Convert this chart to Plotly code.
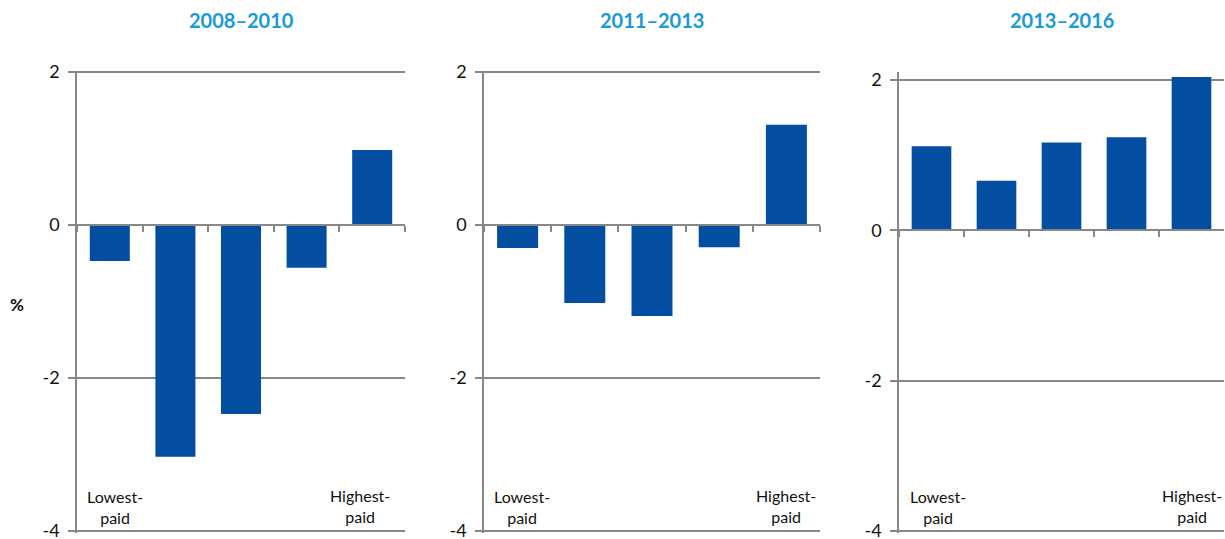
import plotly.graph_objects as go

W, H = 1225, 539

quintiles = ["Q1", "Q2", "Q3", "Q4", "Q5"]
periods = ["2008–2010", "2011–2013", "2013–2016"]
vals_2008_2010 = [-0.47, -3.03, -2.47, -0.56, 0.98]
vals_2011_2013 = [-0.30, -1.02, -1.19, -0.29, 1.31]
vals_2013_2016 = [1.12, 0.66, 1.17, 1.24, 2.04]
series = [vals_2008_2010, vals_2011_2013, vals_2013_2016]
ytick_vals = [-4, -2, 0, 2]
ytick_text = ["-4", "-2", "0", "2"]
low_label = "Lowest-<br>paid"
high_label = "Highest-<br>paid"

BAR = "#044ea2"
GRID = "#878787"
TITLE = "#1a9ad6"
FONT = "Lato"

# pixel geometry of each panel: (x_left, x_right, y_top, y_bottom, y_zero)
panels = [
    (77, 405, 70.5, 532.5, 225),
    (484, 820, 70.5, 532.5, 225),
    (899, 1224, 72, 532.5, 230),
]
yranges = [[-4.02, 2.02], [-4.02, 2.02], [-4.02, 2.107]]
label_shift = [(5, -12), (4, 0), (6, 0)]

fig = go.Figure()
layout = dict(
    width=W, height=H,
    margin=dict(l=0, r=0, t=0, b=0),
    paper_bgcolor="white", plot_bgcolor="white",
    showlegend=False,
    bargap=0.39,
    font=dict(family=FONT, color="#111111"),
    annotations=[],
)

for i, (vals, (xl, xr, yt, yb, yz)) in enumerate(zip(series, panels)):
    n = i + 1
    xa = "x" if n == 1 else f"x{n}"
    ya = "y" if n == 1 else f"y{n}"
    fig.add_trace(go.Bar(x=quintiles, y=vals, xaxis=xa, yaxis=ya,
                         marker=dict(color=BAR, line=dict(width=0))))
    xdom = [xl / W, xr / W]
    ydom = [1 - yb / H, 1 - yt / H]
    layout["xaxis" if n == 1 else f"xaxis{n}"] = dict(
        domain=xdom, anchor="free", position=1 - yz / H,
        type="category", range=[-0.5, 4.5],
        showline=True, linecolor=GRID, linewidth=1.5,
        ticks="outside", tickson="boundaries", ticklen=6, tickcolor=GRID, tickwidth=1.5,
        showticklabels=False, showgrid=False, zeroline=False, fixedrange=True,
    )
    layout["yaxis" if n == 1 else f"yaxis{n}"] = dict(
        domain=ydom, anchor=xa, range=yranges[i],
        tickmode="array", tickvals=ytick_vals, ticktext=ytick_text,
        showline=True, linecolor=GRID, linewidth=1.5,
        showgrid=True, gridcolor=GRID, gridwidth=1.5,
        ticks="outside", ticklen=7, tickcolor=GRID, tickwidth=1.5,
        ticklabelstandoff=5, ticklabeloverflow="allow",
        tickfont=dict(family=FONT, size=18, color="#111111"),
        zeroline=False, fixedrange=True, automargin=False,
    )
    # panel title
    layout["annotations"].append(dict(
        text=f"<b>{periods[i]}</b>", xref="paper", yref="paper",
        x=(xl + xr) / 2 / W, y=1 - 20 / H, xanchor="center", yanchor="middle",
        showarrow=False, font=dict(family=FONT, size=20, color=TITLE)))
    # end labels
    ls, hs = label_shift[i]
    layout["annotations"].append(dict(
        text=low_label, xref=xa, yref="paper", x=quintiles[0], y=1 - 507 / H,
        xanchor="center", yanchor="middle", xshift=ls, showarrow=False, align="center",
        font=dict(family=FONT, size=16, color="#111111")))
    layout["annotations"].append(dict(
        text=high_label, xref=xa, yref="paper", x=quintiles[-1], y=1 - 506 / H,
        xanchor="center", yanchor="middle", xshift=hs, showarrow=False, align="center",
        bgcolor="white" if i < 2 else None, borderpad=3,
        font=dict(family=FONT, size=16, color="#111111")))

layout["annotations"].append(dict(
    text="<b>%</b>", xref="paper", yref="paper", x=17 / W, y=1 - 304 / H,
    xanchor="center", yanchor="middle", showarrow=False,
    font=dict(family=FONT, size=17, color="#111111")))

fig.update_layout(**layout)
fig.write_html("out.html", config={"displayModeBar": False},
               post_script="document.body.style.margin='0';document.body.style.overflow='hidden';")
